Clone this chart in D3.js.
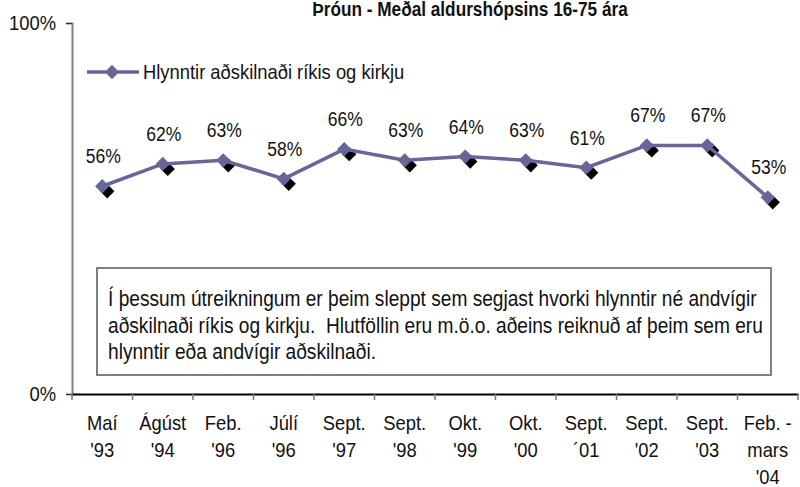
<!DOCTYPE html>
<meta charset="utf-8" />
<style>
  body {
    margin: 0;
    font-family: "Liberation Sans", Arial, sans-serif;
    background: white;
  }
  text {
    fill: #111;
    white-space: pre;
  }
</style>
<body>
  <div class="container"></div>

  <script src="https://d3js.org/d3.v7.min.js"></script>
  <script>
    // data
    var categories = [
      ["Maí", "'93"],
      ["Ágúst", "'94"],
      ["Feb.", "'96"],
      ["Júlí", "'96"],
      ["Sept.", "'97"],
      ["Sept.", "'98"],
      ["Okt.", "'99"],
      ["Okt.", "'00"],
      ["Sept.", "´01"],
      ["Sept.", "'02"],
      ["Sept.", "'03"],
      ["Feb. -", "mars", "'04"],
    ];
    var values = [56, 62, 63, 58, 66, 63, 64, 63, 61, 67, 67, 53];
    var seriesName = "Hlynntir aðskilnaði ríkis og kirkju";
    var yTicks = [0, 100];
    var title = "Þróun - Meðal aldurshópsins 16-75 ára";
    var noteLines = [
      "Í þessum útreikningum er þeim sleppt sem segjast hvorki hlynntir né andvígir",
      "aðskilnaði ríkis og kirkju.  Hlutföllin eru m.ö.o. aðeins reiknuð af þeim sem eru",
      "hlynntir eða andvígir aðskilnaði.",
    ];

    var width = 800,
      height = 487;
    var plotLeft = 72,
      plotRight = 798,
      plotTop = 23,
      plotBottom = 394;
    var purple = "#666699";
    var squeeze = 0.875; // the original uses a narrow face

    var svg = d3
      .select(".container")
      .append("svg")
      .attr("width", width)
      .attr("height", height);

    // place a text at (px, py) and squeeze it horizontally
    function narrowAt(px, py, s) {
      return "translate(" + px + "," + py + ") scale(" + (s || squeeze) + ",1)";
    }

    var idx = categories.map(function (d, i) {
      return i;
    });
    var x = d3.scaleBand().domain(idx).range([plotLeft, plotRight]).padding(0);
    var y = d3.scaleLinear().domain([0, 100]).range([plotBottom, plotTop]);

    // title (clipped at the top like the original)
    svg
      .append("text")
      .attr("transform", narrowAt(470, 16, 0.82))
      .attr("text-anchor", "middle")
      .style("font-weight", "bold")
      .style("font-size", "21px")
      .text(title);

    // y axis
    var yAxis = svg
      .append("g")
      .attr("transform", "translate(" + plotLeft + ",0)")
      .call(d3.axisLeft(y).tickValues(yTicks).tickSize(6).tickFormat(""));
    yAxis.select(".domain").attr("stroke", "#808080").attr("stroke-width", 2);
    yAxis.selectAll(".tick line").attr("stroke", "#333");

    svg
      .selectAll(".ylabel")
      .data(yTicks)
      .enter()
      .append("text")
      .attr("class", "ylabel")
      .attr("text-anchor", "end")
      .style("font-size", "21px")
      .attr("transform", function (d) {
        return narrowAt(plotLeft - 16, y(d) + 7);
      })
      .text(function (d) {
        return d + "%";
      });

    // x axis with labels under each category
    var xAxis = svg
      .append("g")
      .attr("transform", "translate(0," + plotBottom + ")")
      .call(d3.axisBottom(x).tickSize(0).tickFormat(""));
    xAxis.select(".domain").attr("stroke", "#000").attr("stroke-width", 2);

    var tickPos = idx.map(function (i) {
      return x(i);
    });
    tickPos.push(plotRight);
    xAxis
      .selectAll(".cat-tick")
      .data(tickPos)
      .enter()
      .append("line")
      .attr("x1", function (d) {
        return d;
      })
      .attr("x2", function (d) {
        return d;
      })
      .attr("y1", 0)
      .attr("y2", 6)
      .attr("stroke", "#777")
      .attr("stroke-width", 1.5);

    var labels = svg
      .selectAll(".xlabel")
      .data(categories)
      .enter()
      .append("text")
      .attr("class", "xlabel")
      .attr("text-anchor", "middle")
      .style("font-size", "21px")
      .attr("transform", function (d, i) {
        return narrowAt(x(i) + x.bandwidth() / 2, plotBottom + 36);
      });
    labels
      .selectAll("tspan")
      .data(function (d) {
        return d;
      })
      .enter()
      .append("tspan")
      .attr("x", 0)
      .attr("y", function (d, j) {
        return j * 27;
      })
      .text(function (d) {
        return d;
      });

    // note box
    svg
      .append("rect")
      .attr("x", 97)
      .attr("y", 268)
      .attr("width", 674)
      .attr("height", 107)
      .attr("fill", "white")
      .attr("stroke", "#808080")
      .attr("stroke-width", 2);
    svg
      .selectAll(".note")
      .data(noteLines)
      .enter()
      .append("text")
      .attr("class", "note")
      .attr("transform", function (d, i) {
        return narrowAt(108, 306 + i * 26.5, 0.89);
      })
      .style("font-size", "21.5px")
      .text(function (d) {
        return d;
      });

    // series
    var cx = function (d, i) {
      return x(i) + x.bandwidth() / 2;
    };
    var diamond = d3.symbol().type(d3.symbolDiamond2).size(130);

    svg
      .selectAll(".shadow")
      .data(values)
      .enter()
      .append("path")
      .attr("d", diamond)
      .attr("fill", "black")
      .attr("transform", function (d, i) {
        return "translate(" + (cx(d, i) + 5) + "," + (y(d) + 5) + ")";
      });

    var line = d3
      .line()
      .x(cx)
      .y(function (d) {
        return y(d);
      });
    svg
      .append("path")
      .datum(values)
      .attr("d", line)
      .attr("fill", "none")
      .attr("stroke", purple)
      .attr("stroke-width", 3.5);

    svg
      .selectAll(".marker")
      .data(values)
      .enter()
      .append("path")
      .attr("d", diamond)
      .attr("fill", purple)
      .attr("transform", function (d, i) {
        return "translate(" + cx(d, i) + "," + y(d) + ")";
      });

    svg
      .selectAll(".vlabel")
      .data(values)
      .enter()
      .append("text")
      .attr("text-anchor", "middle")
      .attr("transform", function (d, i) {
        return narrowAt(cx(d, i) + 1, y(d) - 23);
      })
      .style("font-size", "20px")
      .text(function (d) {
        return d + "%";
      });

    // legend
    var legend = svg.append("g").attr("transform", "translate(87,72)");
    legend
      .append("line")
      .attr("x1", 0)
      .attr("x2", 52)
      .attr("stroke", purple)
      .attr("stroke-width", 3.5);
    legend
      .append("path")
      .attr("d", diamond)
      .attr("fill", purple)
      .attr("transform", "translate(25,0)");
    legend
      .append("text")
      .attr("transform", narrowAt(56, 7))
      .style("font-size", "21px")
      .text(seriesName);
  </script>
</body>
